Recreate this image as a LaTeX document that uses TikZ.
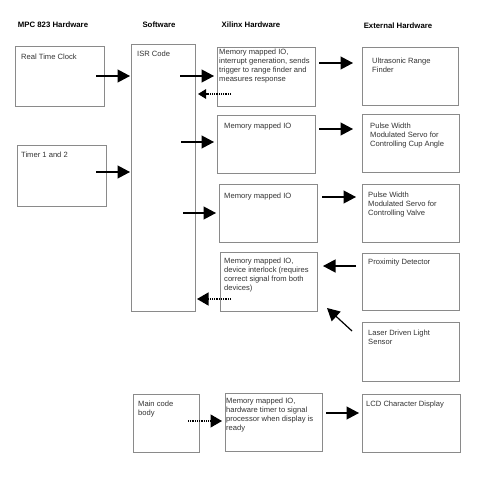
\documentclass[tikz,border=0pt]{standalone}
\usepackage{fontspec}
\setmainfont{Liberation Sans}
\usetikzlibrary{arrows.meta}
\definecolor{boxgray}{HTML}{8A8A8A}
\definecolor{txtgray}{HTML}{333333}
\begin{document}
\begin{tikzpicture}[x=1pt,y=-1pt,
  box/.style={draw=boxgray, line width=0.9pt, anchor=north west, inner sep=0pt, outer sep=0pt},
  txt/.style={anchor=north west, inner sep=0pt, align=left, text=txtgray, font=\fontsize{7.6}{9}\selectfont},
  hdr/.style={anchor=center, inner sep=0pt, font=\fontsize{7.8}{9}\selectfont\bfseries},
  conn/.style={line width=1.2pt, -{Triangle[length=12.5pt,width=13pt]}},
  dconn/.style={line width=1.3pt, dash pattern=on 1pt off 0.8pt, -{Triangle[length=11.5pt,width=13pt]}},
  sdconn/.style={line width=1.3pt, dash pattern=on 1pt off 0.8pt, -{Triangle[length=8pt,width=9.5pt]}}]
\useasboundingbox[fill=white] (0,0) rectangle (481,500);

% headers
\node[hdr] (h1) at (53,25) {MPC 823 Hardware};
\node[hdr] (h2) at (159,25) {Software};
\node[hdr] (h3) at (251,25) {Xilinx Hardware};
\node[hdr] (h4) at (398,26) {External Hardware};

% boxes
\node[box, minimum width=89pt, minimum height=60pt] (rtc) at (15,46) {};
\node[box, minimum width=89pt, minimum height=61pt] (tmr) at (17,145) {};
\node[box, minimum width=64pt, minimum height=267pt] (isr) at (131,44) {};
\node[box, minimum width=98pt, minimum height=59pt] (x1) at (217,47) {};
\node[box, minimum width=98pt, minimum height=58pt] (x2) at (217,115) {};
\node[box, minimum width=98pt, minimum height=58pt] (x3) at (219,184) {};
\node[box, minimum width=97pt, minimum height=59pt] (x4) at (220,252) {};
\node[box, minimum width=97pt, minimum height=58pt] (x5) at (225,393) {};
\node[box, minimum width=66pt, minimum height=58pt] (mainb) at (133,394) {};
\node[box, minimum width=96pt, minimum height=58pt] (e1) at (362,47) {};
\node[box, minimum width=97pt, minimum height=58pt] (e2) at (362,114) {};
\node[box, minimum width=97pt, minimum height=58pt] (e3) at (362,184) {};
\node[box, minimum width=97pt, minimum height=57pt] (e4) at (362,253) {};
\node[box, minimum width=97pt, minimum height=59pt] (e5) at (362,322) {};
\node[box, minimum width=98pt, minimum height=58pt] (lcd) at (362,394) {};

% texts
\node[txt] (rtc-t) at (21,54) {Real Time Clock};
\node[txt] (tmr-t) at (21,152) {Timer 1 and 2};
\node[txt] (isr-t) at (137,51) {ISR Code};
\node[txt] (x1-t) at (219,48.5) {Memory mapped IO,\\interrupt generation, sends\\trigger to range finder and\\measures response};
\node[txt] (x2-t) at (224,123) {Memory mapped IO};
\node[txt] (x3-t) at (224,193) {Memory mapped IO};
\node[txt] (x4-t) at (224,258) {Memory mapped IO,\\device interlock (requires\\correct signal from both\\devices)};
\node[txt] (x5-t) at (226,398) {Memory mapped IO,\\hardware timer to signal\\processor when display is\\ready};
\node[txt] (e1-t) at (372,58) {Ultrasonic Range\\Finder};
\node[txt] (e2-t) at (370,123) {Pulse Width\\Modulated Servo for\\Controlling Cup Angle};
\node[txt] (e3-t) at (368,192) {Pulse Width\\Modulated Servo for\\Controlling Valve};
\node[txt] (e4-t) at (368,259) {Proximity Detector};
\node[txt] (e5-t) at (368,330) {Laser Driven Light\\Sensor};
\node[txt] (main-t) at (138,401) {Main code\\body};
\node[txt] (lcd-t) at (366,401) {LCD Character Display};

% connector end points
\coordinate (a1s) at (96,76);   \coordinate (a1e) at (130,76);
\coordinate (a2s) at (96,172);  \coordinate (a2e) at (130,172);
\coordinate (a3s) at (180,76);  \coordinate (a3e) at (214,76);
\coordinate (a4s) at (231,94);  \coordinate (a4e) at (198,94);
\coordinate (a5s) at (319,63);  \coordinate (a5e) at (353,63);
\coordinate (a6s) at (181,142); \coordinate (a6e) at (214,142);
\coordinate (a7s) at (319,129); \coordinate (a7e) at (353,129);
\coordinate (a8s) at (183,213); \coordinate (a8e) at (216,213);
\coordinate (a9s) at (322,197); \coordinate (a9e) at (356,197);
\coordinate (a10s) at (356,266); \coordinate (a10e) at (323,266);
\coordinate (a11s) at (231,299); \coordinate (a11e) at (197,299);
\coordinate (a12s) at (352,331); \coordinate (a12e) at (327,308);
\coordinate (a13s) at (188,421); \coordinate (a13e) at (222,421);
\coordinate (a14s) at (326,413); \coordinate (a14e) at (359,413);

% connectors
\draw[conn] (a1s) -- (a1e);
\draw[conn] (a2s) -- (a2e);
\draw[conn] (a3s) -- (a3e);
\draw[sdconn] (a4s) -- (a4e);
\draw[conn] (a5s) -- (a5e);
\draw[conn] (a6s) -- (a6e);
\draw[conn] (a7s) -- (a7e);
\draw[conn] (a8s) -- (a8e);
\draw[conn] (a9s) -- (a9e);
\draw[conn] (a10s) -- (a10e);
\draw[dconn] (a11s) -- (a11e);
\draw[conn] (a12s) -- (a12e);
\draw[dconn] (a13s) -- (a13e);
\draw[conn] (a14s) -- (a14e);
\end{tikzpicture}
\end{document}
